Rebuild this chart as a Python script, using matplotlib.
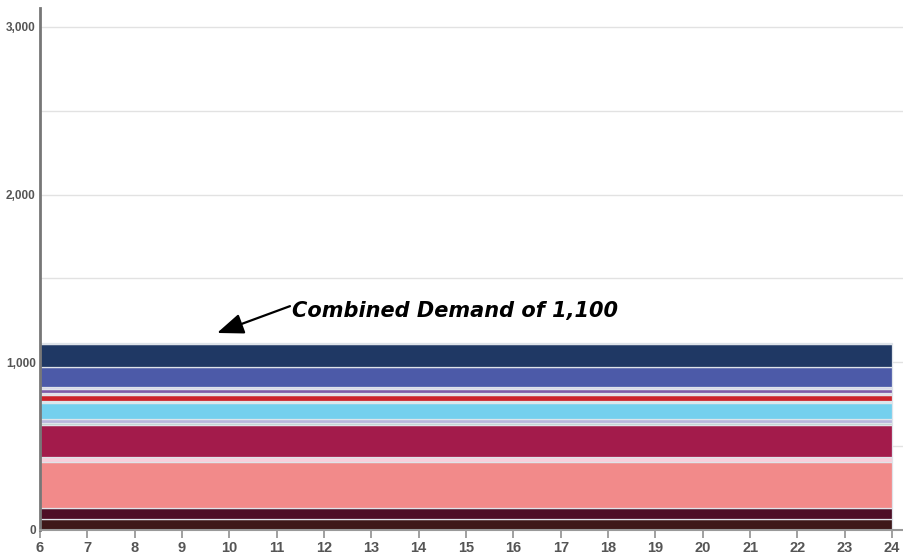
import matplotlib
matplotlib.use("Agg")
from matplotlib import pyplot as plt
from matplotlib.ticker import FuncFormatter, MultipleLocator

# hours of the day shown on the x axis
hours = list(range(6, 25))

# demand of each source, bottom to top (constant through the day)
demand = [68, 64, 273, 30, 190, 15, 20, 97, 13, 35, 10, 25, 12, 123, 132, 8]
colors = ['#3e1819', '#4e0e26', '#f28a8a', '#f8cfdc', '#a31b4b', '#b8cfc6',
          '#b9b6dc', '#74d0ee', '#d4edf3', '#cc2229', '#f2d6df', '#7e5aa6',
          '#d8d3ea', '#4c5aa8', '#1f3864', '#c8d2df']

label_text = 'Combined Demand of 1,100'

fig = plt.figure(figsize=(9.04, 5.55), dpi=100)
ax = fig.add_axes([40 / 904, 25 / 555, 864 / 904, 522 / 555])

series = [[d] * len(hours) for d in demand]
ax.stackplot(hours, series, colors=colors, edgecolor='#dfe4ea', linewidth=0.9)

ax.set_xlim(6, 24.25)
ax.set_ylim(0, 3113)

#gridlines every 500, labels every 1000
ax.yaxis.set_major_locator(MultipleLocator(1000))
ax.yaxis.set_minor_locator(MultipleLocator(500))
ax.grid(True, axis='y', which='both', color='#e2e2e2', linewidth=1)
ax.set_axisbelow(True)
ax.yaxis.set_major_formatter(FuncFormatter(lambda v, p: '{:,.0f}'.format(v)))
ax.set_xticks(hours)

for s in ['top', 'right']:
    ax.spines[s].set_visible(False)
ax.spines['left'].set_color('#777777')
ax.spines['left'].set_linewidth(2)
ax.spines['bottom'].set_color('#999999')
ax.spines['bottom'].set_linewidth(1.5)

ax.tick_params(axis='y', which='both', length=0, pad=3, labelsize=8.5, labelcolor='#555555')
ax.tick_params(axis='x', length=6, width=1.3, color='#999999', pad=2, labelsize=10.5, labelcolor='#555555')
for t in ax.get_yticklabels() + ax.get_xticklabels():
    t.set_fontweight('bold')
    t.set_family('Liberation Sans')

#arrow and label drawn separately so the arrow starts at the text
ax.annotate('', xy=(9.74, 1175), xytext=(11.28, 1335),
            arrowprops=dict(arrowstyle='-|>,head_length=0.9,head_width=0.35',
                            color='black', lw=1.6, mutation_scale=18,
                            shrinkA=0, shrinkB=0))
ax.text(11.33, 1306, label_text, fontsize=15, fontweight='bold',
        fontstyle='italic', color='black', va='center', ha='left')

plt.savefig('out.png', dpi=100)
plt.close()
